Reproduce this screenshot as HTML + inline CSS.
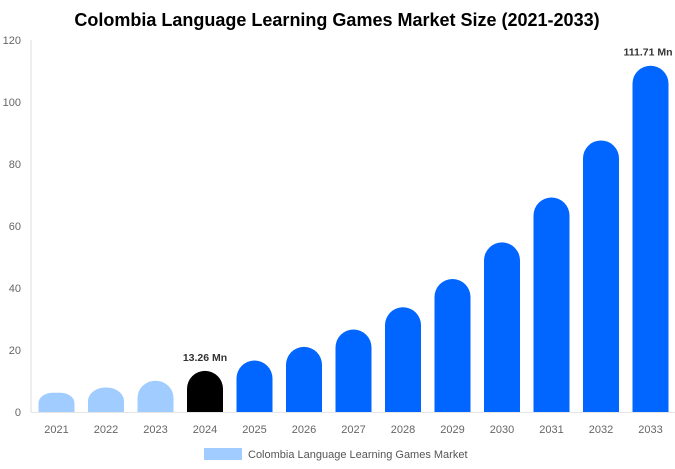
<!DOCTYPE html>
<html><head><meta charset="utf-8"><style>
html,body{margin:0;padding:0;background:#fff;width:675px;height:469px;overflow:hidden;font-family:"Liberation Sans",Arial,sans-serif}
</style></head><body>
<svg id="chart" width="675" height="469" xmlns="http://www.w3.org/2000/svg">
<text x="337" y="26" text-anchor="middle" font-size="18" font-weight="bold" fill="#000">Colombia Language Learning Games Market Size (2021-2033)</text>
<line x1="31" y1="40" x2="31" y2="412" stroke="#ddd" stroke-width="1"/>
<line x1="31" y1="412.5" x2="675" y2="412.5" stroke="#e6e6e6" stroke-width="1"/>
<g id="yt"></g><g id="bars"></g><g id="xt"></g>
<rect x="204" y="448" width="38" height="12" fill="#a0ccff"/>
<text x="248" y="458" font-size="11" fill="#555">Colombia Language Learning Games Market</text>
</svg>
<script>
const categories=["2021","2022","2023","2024","2025","2026","2027","2028","2029","2030","2031","2032","2033"];
const values=[6.2,7.9,10.1,13.26,16.6,21.0,26.6,33.8,42.9,54.7,69.2,87.6,111.71];
const yTicks=[0,20,40,60,80,100,120];
const labels={3:"13.26 Mn",12:"111.71 Mn"};
const NS="http://www.w3.org/2000/svg";
const y0=412,k=3.1,x0=56.5,step=49.5,bw=36;
const ys=v=>y0-v*k, xs=i=>x0+i*step;
const yt=document.getElementById('yt'),bars=document.getElementById('bars'),xt=document.getElementById('xt');
yTicks.forEach(t=>{const e=document.createElementNS(NS,'text');


e.setAttribute('x',21);e.setAttribute('y',ys(t)+4);e.setAttribute('text-anchor','end');e.setAttribute('font-size','11');e.setAttribute('fill','#666');e.textContent=t;yt.appendChild(e);});
categories.forEach((c,i)=>{
const v=values[i],top=ys(v),h=y0-top,l=xs(i)-bw/2,r=bw/2,ry=Math.min(r,h*0.55),rx=Math.min(r,ry*1.3);
const p=document.createElementNS(NS,'path');


p.setAttribute('d',`M${l},${y0} L${l},${top+ry} A${rx},${ry} 0 0 1 ${l+rx},${top} L${l+bw-rx},${top} A${rx},${ry} 0 0 1 ${l+bw},${top+ry} L${l+bw},${y0} Z`);
p.setAttribute('fill',i<3?'#a0ccff':(i==3?'#000':'#0066ff'));bars.appendChild(p);
const t=document.createElementNS(NS,'text');


t.setAttribute('x',xs(i));t.setAttribute('y',433);t.setAttribute('text-anchor','middle');t.setAttribute('font-size','11');t.setAttribute('fill','#666');t.textContent=c;xt.appendChild(t);
if(labels[i]){const d=document.createElementNS(NS,'text');


d.setAttribute('x',Math.min(xs(i),648));d.setAttribute('y',top-10);d.setAttribute('text-anchor','middle');d.setAttribute('font-size','10.5');d.setAttribute('font-weight','bold');d.setAttribute('fill','#333');d.textContent=labels[i];bars.appendChild(d);}
});
</script>
</body></html>
